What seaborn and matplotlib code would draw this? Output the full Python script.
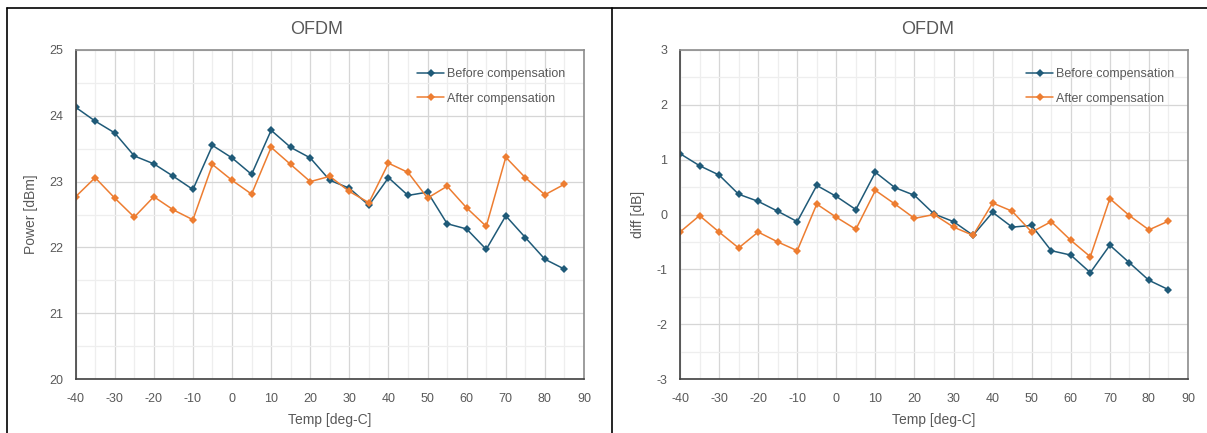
import numpy as np
import pandas as pd
import matplotlib
matplotlib.use("Agg")
import matplotlib.pyplot as plt
from matplotlib.lines import Line2D
from matplotlib.ticker import MultipleLocator
import seaborn as sns

# データ
temps = [-40, -35, -30, -25, -20, -15, -10, -5, 0, 5, 10, 15, 20,
         25, 30, 35, 40, 45, 50, 55, 60, 65, 70, 75, 80, 85]

power_before = [24.13, 23.92, 23.74, 23.39, 23.27, 23.08, 22.88, 23.55, 23.36, 23.11,
                23.78, 23.52, 23.36, 23.02, 22.90, 22.64, 23.06, 22.79, 22.84, 22.36,
                22.28, 21.97, 22.48, 22.15, 21.82, 21.67]
power_after = [22.77, 23.06, 22.75, 22.46, 22.77, 22.57, 22.42, 23.26, 23.02, 22.81,
               23.52, 23.26, 23.00, 23.08, 22.85, 22.68, 23.28, 23.14, 22.75, 22.93,
               22.60, 22.32, 23.37, 23.06, 22.80, 22.96]

diff_before = [1.11, 0.89, 0.72, 0.37, 0.24, 0.06, -0.13, 0.53, 0.33, 0.09,
               0.77, 0.49, 0.35, 0.01, -0.13, -0.38, 0.04, -0.23, -0.20, -0.66,
               -0.74, -1.06, -0.56, -0.88, -1.20, -1.37]
diff_after = [-0.32, -0.02, -0.32, -0.61, -0.32, -0.50, -0.66, 0.19, -0.05, -0.27,
              0.44, 0.19, -0.07, 0.00, -0.23, -0.38, 0.21, 0.06, -0.32, -0.13,
              -0.47, -0.77, 0.29, -0.02, -0.28, -0.12]

series_names = ["Before compensation", "After compensation"]
title = "OFDM"

sns.set_style("white")
plt.rcParams['font.family'] = ['Liberation Sans', 'DejaVu Sans']
plt.rcParams['axes.unicode_minus'] = False

BLUE = "#1f5a78"
ORANGE = "#ed7d31"
TXT = "#595959"

W, H = 1207, 433
fig = plt.figure(figsize=(W / 100, H / 100), dpi=100)


def make_df(before, after):
    df = pd.DataFrame({"Temp": temps, series_names[0]: before, series_names[1]: after})
    return df.melt(id_vars="Temp", var_name="series", value_name="val")


def draw_panel(rect, df, ylim, ylabel, leg_x, title_x):
    ax = fig.add_axes(rect)
    sns.lineplot(data=df, x="Temp", y="val", hue="series", palette=[BLUE, ORANGE],
                 marker="D", markersize=4.5, markeredgewidth=0, linewidth=1.1,
                 ax=ax, legend=True)
    ax.set_xlim(-40, 90)
    ax.set_ylim(*ylim)
    ax.xaxis.set_major_locator(MultipleLocator(10))
    ax.xaxis.set_minor_locator(MultipleLocator(5))
    ax.yaxis.set_major_locator(MultipleLocator(1))
    ax.yaxis.set_minor_locator(MultipleLocator(0.5))
    ax.grid(which="major", color="#d6d6d6", linewidth=0.9)
    ax.grid(which="minor", color="#eeeeee", linewidth=0.9)
    ax.set_axisbelow(True)
    ax.tick_params(which="both", length=0, labelsize=9, colors=TXT)
    ax.tick_params(axis="x", pad=10)
    ax.tick_params(axis="y", pad=9)
    for side in ["top", "right"]:
        ax.spines[side].set_color("#8c8c8c")
        ax.spines[side].set_linewidth(1.2)
    for side in ["left", "bottom"]:
        ax.spines[side].set_color("#404040")
        ax.spines[side].set_linewidth(1.2)
    ax.set_xlabel("Temp [deg-C]", fontsize=10, color=TXT, labelpad=6)
    ax.set_ylabel(ylabel, fontsize=10, color=TXT, labelpad=8)
    leg = ax.legend(loc="upper left", bbox_to_anchor=(leg_x, 0.945), frameon=False,
                    borderpad=0, borderaxespad=0, handlelength=2.2, handletextpad=0.2,
                    labelspacing=1.0, fontsize=9)
    for t in leg.get_texts():
        t.set_color(TXT)
    fig.text(title_x / W, 1 - 30 / H, title, ha="center", va="center",
             fontsize=13, color=TXT)
    return ax


draw_panel([75.6 / W, 54 / H, 508.4 / W, 329 / H], make_df(power_before, power_after),
           (20, 25), "Power [dBm]", 0.6715, 317)
draw_panel([680 / W, 54 / H, 508 / W, 329 / H], make_df(diff_before, diff_after),
           (-3, 3), "diff [dB]", 0.681, 928)

# 表の罫線
fig.add_artist(Line2D([7 / W, 1], [1 - 8 / H, 1 - 8 / H], color="black", linewidth=1.2))
fig.add_artist(Line2D([7 / W, 7 / W], [0, 1 - 8 / H], color="black", linewidth=1.2))
fig.add_artist(Line2D([612 / W, 612 / W], [0, 1 - 8 / H], color="black", linewidth=1.2))

fig.savefig("out.png", dpi=100)
